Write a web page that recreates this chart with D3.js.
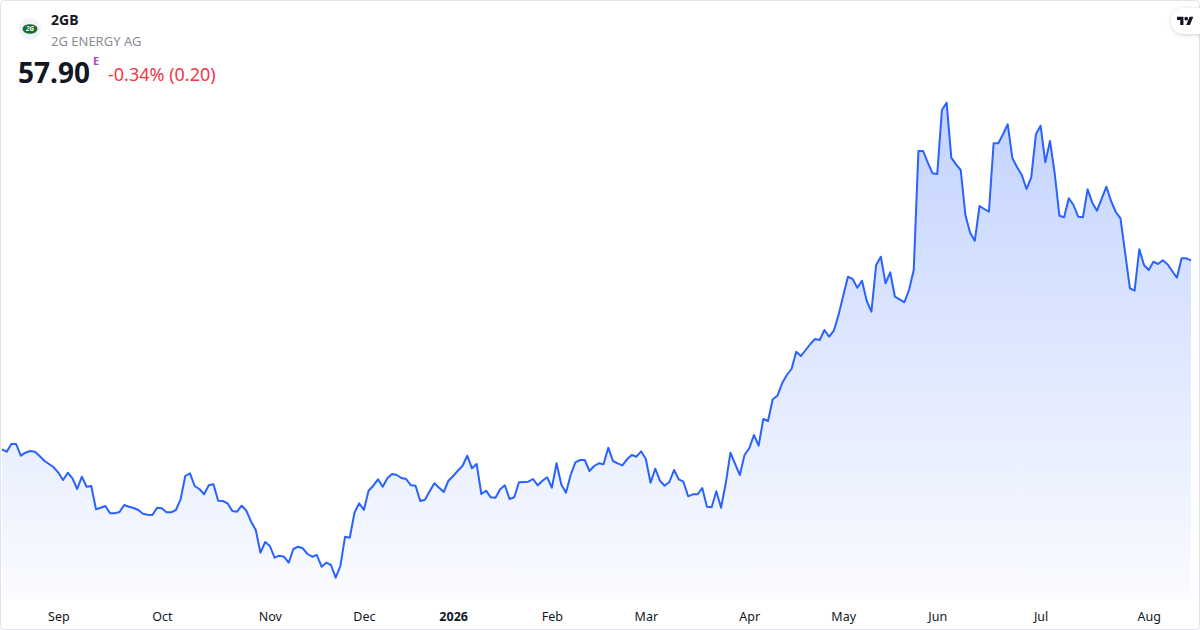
<!DOCTYPE html>
<html>
<head>
<meta charset="utf-8">
<script src="https://cdn.jsdelivr.net/npm/d3@7"></script>
<style>
  html, body { margin: 0; padding: 0; background: #ffffff; }
  svg { display: block; font-family: "Noto Sans", "Open Sans", sans-serif; }
</style>
</head>
<body>
<div id="d3-container"></div>
<script>
// trading calendar (Xetra days, one year)
const startDate = "2025-08-14";
const endDate = "2026-08-14";
const holidays = ["2025-12-24", "2025-12-25", "2025-12-26", "2025-12-31",
                  "2026-01-01", "2026-04-03", "2026-04-06", "2026-05-01"];

// month ticks shown under the chart
const tickDates = ["2025-09-01", "2025-10-01", "2025-11-03", "2025-12-01", "2026-01-02", "2026-02-02",
                   "2026-03-02", "2026-04-01", "2026-05-04", "2026-06-01", "2026-07-01", "2026-08-03"];
const tickLabels = ["Sep", "Oct", "Nov", "Dec", "2026", "Feb", "Mar", "Apr", "May", "Jun", "Jul", "Aug"];

// daily close
const closes = [
  39.00, 38.76, 39.53, 39.53, 38.36, 38.66, 38.83, 38.76, 38.33, 37.86,
  37.53, 37.20, 36.66, 35.93, 36.66, 36.10, 35.03, 36.26, 35.26, 35.33,
  33.00, 33.16, 33.33, 32.60, 32.60, 32.73, 33.43, 33.26, 33.13, 32.93,
  32.56, 32.46, 32.43, 33.16, 33.10, 32.70, 32.70, 32.93, 34.00, 36.33,
  36.60, 35.33, 35.03, 34.50, 35.40, 35.50, 33.86, 33.83, 33.60, 32.83,
  32.76, 33.36, 32.86, 31.76, 30.93, 28.66, 29.73, 29.33, 28.16, 28.36,
  28.26, 27.66, 29.03, 29.26, 29.10, 28.53, 28.26, 28.43, 27.26, 27.66,
  27.43, 26.16, 27.33, 30.26, 30.16, 32.66, 33.60, 32.93, 34.86, 35.36,
  36.00, 35.26, 36.10, 36.53, 36.43,
  36.13, 36.03, 35.40, 35.36, 33.83, 33.96, 34.80, 35.60, 35.16, 34.73,
  35.86, 36.33, 36.86, 37.36, 38.36, 37.10, 37.53, 34.53, 34.86, 34.20,
  34.16, 35.00, 35.40, 34.03, 34.20, 35.70, 35.73, 35.76, 36.03, 35.40,
  35.86, 36.20, 35.16, 37.60, 35.50, 34.66, 36.43, 37.70, 37.93, 37.93,
  36.83, 37.33, 37.60, 37.50, 39.16, 37.83, 37.60, 37.40, 38.00, 38.43,
  38.26, 38.80, 38.03, 35.66, 37.06, 35.86, 35.36, 35.73, 36.93, 36.00,
  35.76, 34.30, 34.50, 34.50, 35.13, 33.26, 33.20, 34.80, 33.16,
  35.60, 38.66, 37.53, 36.43, 38.43, 39.10, 40.43, 39.36, 42.03, 41.83,
  44.00, 44.36, 45.60, 46.43, 47.03, 48.76, 48.33, 48.93, 49.53, 50.03,
  49.93, 50.93, 50.26, 50.86, 52.43, 54.36, 56.26, 56.03, 55.16, 55.86,
  53.83, 52.76, 57.43,
  58.26, 55.60, 56.70, 54.26, 54.00, 53.70, 54.93, 56.93, 68.83, 68.83,
  67.66, 66.60, 66.53, 72.93, 73.66, 68.16, 67.50, 66.93, 62.43, 60.66,
  59.86, 63.33, 63.03, 62.76, 69.60, 69.60, 70.50, 71.50, 68.10, 67.20,
  66.43, 65.03, 66.16, 70.50, 71.36, 67.70, 69.83, 66.60, 62.36, 62.20,
  64.10, 63.43, 62.26, 62.20, 65.00, 63.66, 62.86, 64.06, 65.26, 63.83,
  62.73, 62.10, 58.60, 55.10, 54.86, 59.00, 57.43, 56.93, 57.76, 57.53,
  57.90, 57.50, 56.83, 56.16, 58.10, 58.10, 57.90
];

// header texts
const ticker = "2GB";
const companyName = "2G ENERGY AG";
const lastPrice = "57.90";
const changeText = "-0.34% (0.20)";

// build trading days list
const fmt = d3.utcFormat("%Y-%m-%d");
const parse = d3.utcParse("%Y-%m-%d");
const days = d3.utcDay.range(parse(startDate), d3.utcDay.offset(parse(endDate), 1))
  .filter(d => d.getUTCDay() !== 0 && d.getUTCDay() !== 6)
  .map(fmt)
  .filter(d => holidays.indexOf(d) < 0);

const data = closes.map((c, i) => ({ date: days[i], close: c }));

// dimensions
const width = 1200;
const height = 630;
const pane = { left: 2, right: 1191, top: 102.7, bottom: 577.7, floor: 600 };

const svg = d3.select('#d3-container')
  .append('svg')
  .attr('width', width)
  .attr('height', height)
  .attr('viewBox', [0, 0, width, height]);

// frame
svg.append('rect')
  .attr('x', 0.5).attr('y', 0.5)
  .attr('width', width - 1).attr('height', height - 1)
  .attr('rx', 4)
  .attr('fill', '#ffffff')
  .attr('stroke', '#e0e3eb');

// scales
const x = d3.scalePoint()
  .domain(data.map(d => d.date))
  .range([pane.left, pane.right]);

const y = d3.scaleLinear()
  .domain([d3.min(data, d => d.close), d3.max(data, d => d.close)])
  .range([pane.bottom, pane.top]);

// gradient under the line
const defs = svg.append('defs');
const grad = defs.append('linearGradient')
  .attr('id', 'areaFill')
  .attr('gradientUnits', 'userSpaceOnUse')
  .attr('x1', 0).attr('x2', 0)
  .attr('y1', pane.top).attr('y2', pane.floor);
grad.append('stop').attr('offset', '0%').attr('stop-color', 'rgb(41,98,255)').attr('stop-opacity', 0.28);
grad.append('stop').attr('offset', '100%').attr('stop-color', 'rgb(41,98,255)').attr('stop-opacity', 0.02);

const shadow = defs.append('filter').attr('id', 'pillShadow')
  .attr('x', '-50%').attr('y', '-50%').attr('width', '200%').attr('height', '200%');
shadow.append('feDropShadow')
  .attr('dx', 0).attr('dy', 1).attr('stdDeviation', 2)
  .attr('flood-color', '#000').attr('flood-opacity', 0.18);

const area = d3.area()
  .x(d => x(d.date))
  .y0(pane.floor)
  .y1(d => y(d.close));

const line = d3.line()
  .x(d => x(d.date))
  .y(d => y(d.close));

svg.append('path')
  .datum(data)
  .attr('fill', 'url(#areaFill)')
  .attr('d', area);

svg.append('path')
  .datum(data)
  .attr('fill', 'none')
  .attr('stroke', '#2962ff')
  .attr('stroke-width', 2)
  .attr('stroke-linejoin', 'round')
  .attr('d', line);

// x axis with month names
function xAxis(g) {
  g.attr('transform', `translate(0,${pane.floor})`)
    .call(d3.axisBottom(x)
      .tickValues(tickDates)
      .tickSize(0)
      .tickPadding(12)
      .tickFormat((d, i) => tickLabels[i]));
  g.select('.domain').remove();
  g.selectAll('text')
    .attr('font-family', '"Noto Sans", "Open Sans", sans-serif')
    .attr('font-size', '12.5px')
    .attr('fill', '#131722')
    .attr('font-weight', d => /^\d+$/.test(tickLabels[tickDates.indexOf(d)]) ? 700 : 400);
}
svg.append('g').call(xAxis);

// header: logo + names
const logo = svg.append('g').attr('transform', 'translate(30,29)');
logo.append('circle').attr('r', 11).attr('fill', '#f0f3fa');
logo.append('ellipse').attr('rx', 7.5).attr('ry', 4.8).attr('fill', '#1b6b2c');
logo.append('text')
  .attr('text-anchor', 'middle').attr('y', 2.4)
  .attr('font-size', '6.5px').attr('font-weight', 700).attr('font-style', 'italic')
  .attr('fill', '#ffffff')
  .text('2G');

svg.append('text')
  .attr('x', 51).attr('y', 25)
  .attr('font-size', '14px').attr('font-weight', 700).attr('fill', '#131722')
  .text(ticker);

svg.append('text')
  .attr('x', 51).attr('y', 45.5)
  .attr('font-size', '13px').attr('fill', '#8a8d96')
  .text(companyName);

svg.append('text')
  .attr('x', 18).attr('y', 83)
  .attr('font-size', '28px').attr('font-weight', 700).attr('fill', '#131722')
  .text(lastPrice);

svg.append('text')
  .attr('x', 93).attr('y', 65)
  .attr('font-size', '11px').attr('font-weight', 700).attr('fill', '#ab47bc')
  .text('E');

svg.append('text')
  .attr('x', 108).attr('y', 81)
  .attr('font-size', '18px').attr('fill', '#f23645')
  .text(changeText);

// tradingview badge top right
const badge = svg.append('g');
badge.append('rect')
  .attr('x', 1171).attr('y', 8)
  .attr('width', 44).attr('height', 26).attr('rx', 13)
  .attr('fill', '#ffffff')
  .attr('filter', 'url(#pillShadow)');
badge.append('path')
  .attr('transform', 'translate(1177,15) scale(0.46)')
  .attr('fill', '#131722')
  .attr('d', 'M14 22H7V11H0V4h14v18zM28 22h-8l7.5-18h8L28 22z');
badge.append('circle')
  .attr('cx', 1177 + 20 * 0.46).attr('cy', 15 + 8 * 0.46).attr('r', 4 * 0.46)
  .attr('fill', '#131722');
</script>
</body>
</html>
